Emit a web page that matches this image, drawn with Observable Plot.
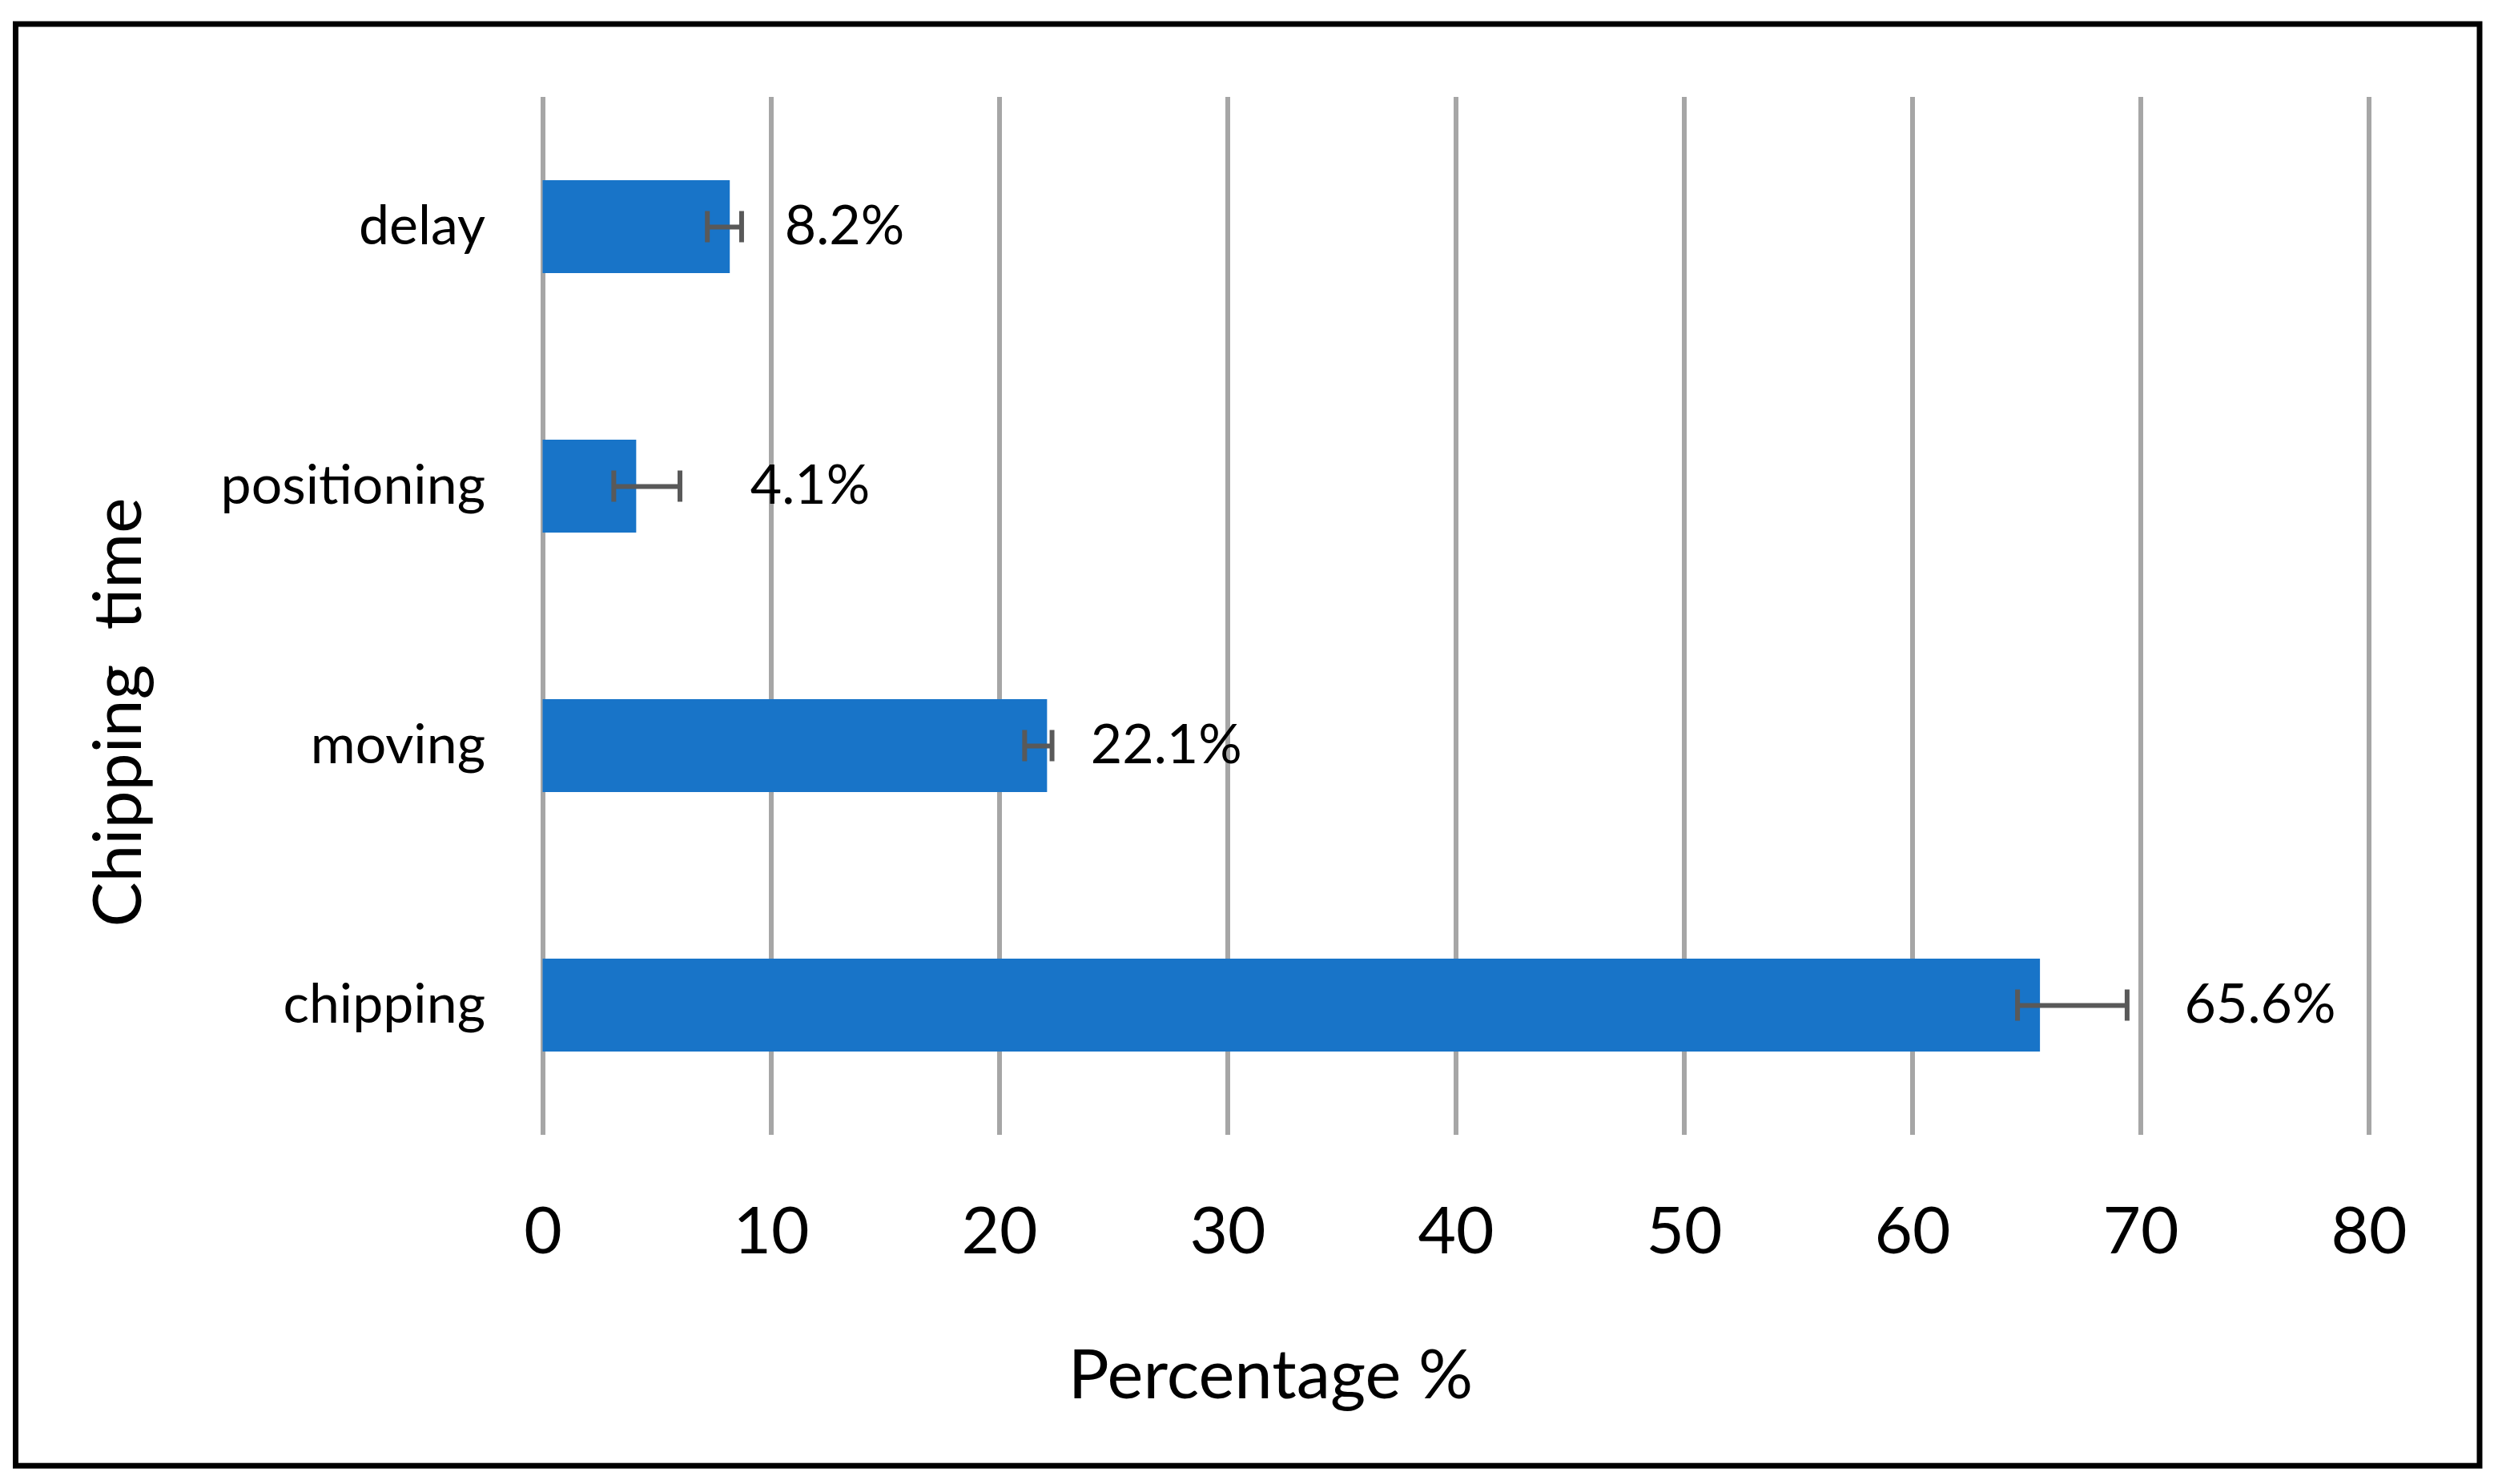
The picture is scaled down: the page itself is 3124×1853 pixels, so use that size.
<!DOCTYPE html>
<html>
<head>
<meta charset="utf-8">
<script src="https://cdn.jsdelivr.net/npm/d3@7"></script>
<script src="https://cdn.jsdelivr.net/npm/@observablehq/plot@0.6"></script>
<style>
  html, body { margin: 0; padding: 0; background: #ffffff; }
  svg text { white-space: pre; }
</style>
</head>
<body>
<div id="chart"></div>
<script>
// ---- data ----
const categories = ["delay", "positioning", "moving", "chipping"];
const values = [8.2, 4.1, 22.1, 65.6];
const errLow = [7.2, 3.1, 21.1, 64.6];
const errHigh = [8.7, 6.0, 22.3, 69.4];
const valueLabels = ["8.2%", "4.1%", "22.1%", "65.6%"];
const xTicks = [0, 10, 20, 30, 40, 50, 60, 70, 80];
const xTitle = "Percentage %";
const yTitle = "Chipping  time";

// ---- style (label nudges in px) ----
const labelNudge = [68, 142, 54, 180];

const rows = categories.map((name, i) => ({
  name, value: values[i], lo: errLow[i], hi: errHigh[i], label: valueLabels[i]
}));

const W = 3124, H = 1853;
const mL = 677.5, mR = 166.5, mT = 121, mB = 436;
const errColor = "#595959";

const chart = Plot.plot({
  width: W,
  height: H,
  marginLeft: mL,
  marginRight: mR,
  marginTop: mT,
  marginBottom: mB,
  style: { fontFamily: "Lato, 'Open Sans', sans-serif", background: "#ffffff", color: "#000000" },
  x: { domain: [0, 80], ticks: xTicks },
  y: { domain: categories, paddingInner: 0.642, paddingOuter: 0.321 },
  marks: [
    Plot.frame({
      stroke: "#000000", strokeWidth: 7,
      insetLeft: -(mL - 19), insetRight: -(3095.5 - (W - mR)),
      insetTop: -(mT - 29.5), insetBottom: -(1829.7 - (H - mB))
    }),
    Plot.gridX(xTicks, { stroke: "#a6a6a6", strokeOpacity: 1, strokeWidth: 6 }),
    Plot.barX(rows, { x: "value", y: "name", fill: "#1874c8" }),
    Plot.ruleY(rows, { y: "name", x1: "lo", x2: "hi", stroke: errColor, strokeWidth: 6 }),
    Plot.tickX(rows, { x: "lo", y: "name", stroke: errColor, strokeWidth: 6, insetTop: 38.5, insetBottom: 38.5 }),
    Plot.tickX(rows, { x: "hi", y: "name", stroke: errColor, strokeWidth: 6, insetTop: 38.5, insetBottom: 38.5 }),
    ...rows.map((r, i) => Plot.text([r], {
      x: "value", y: "name", text: "label", textAnchor: "start",
      dx: labelNudge[i], fontSize: 68, fill: "#000000"
    })),
    Plot.axisX({ ticks: xTicks, tickSize: 0, tickPadding: 89, fontSize: 82, label: null }),
    Plot.axisY({ tickSize: 0, tickPadding: 72, fontSize: 68, label: null }),
    Plot.text([xTitle], {
      frameAnchor: "bottom", lineAnchor: "bottom", textAnchor: "middle", text: d => d,
      dx: 1586 - (mL + (W - mR)) / 2, dy: 328, fontSize: 85, fill: "#000000"
    }),
    Plot.text([yTitle], {
      frameAnchor: "left", rotate: -90, textAnchor: "middle", lineAnchor: "middle", text: d => d,
      dx: 149 - mL, dy: 889 - (mT + (H - mB)) / 2, fontSize: 84, fill: "#000000"
    })
  ]
});

document.getElementById("chart").appendChild(chart);
</script>
</body>
</html>
